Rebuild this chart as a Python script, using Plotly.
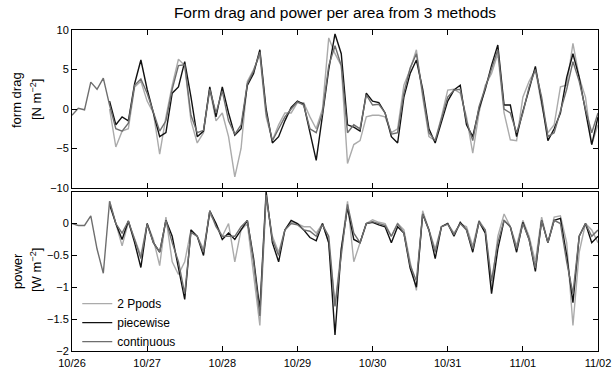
import plotly.graph_objects as go
from plotly.subplots import make_subplots

# time in hours since 10/26 00:00, 2-hour sampling
hours = list(range(0, 169, 2))
tick_hours = [0, 24, 48, 72, 96, 120, 144, 168]
tick_labels = ["10/26", "10/27", "10/28", "10/29", "10/30", "10/31", "11/01", "11/02"]
N = None

drag_continuous = [-0.8, 0.1, -0.1, 3.4, 2.5, 3.9, 0.5, -2.5, -2.8, -1.8,
                   3.0, 3.8, 2.0, -0.3, -2.8, -1.5, 2.5, 5.5, 5.6, -0.8,
                   -3.0, -2.7, 2.5, -0.5, 2.3, -1.5, -3.2, -2.0, 3.2, 4.8,
                   7.2, -0.5, -4.0, -2.5, -1.0, 0.0, 0.9, 0.5, -2.5, -3.0,
                   -0.5, 5.5, 8.0, 5.5, -3.0, -2.0, -2.5, 1.8, 0.5, 0.6,
                   -0.5, -3.2, -3.0, 2.0, 5.2, 7.0, 2.0, -3.0, -4.0, -1.2,
                   1.5, 2.4, 2.5, -1.5, -4.0, 0.3, 2.8, 5.0, 7.5, 0.0,
                   -0.5, -3.0, -0.5, 2.8, 5.0, 1.5, -3.5, -3.0, -0.1, 2.5,
                   6.0, 3.5, 0.0, -3.0, -0.5]
drag_piecewise = [N, N, N, N, N, N, 1.0, -2.0, -1.0, -1.5,
                  3.2, 6.2, 2.5, -0.5, -3.5, -3.0, 2.0, 2.8, 6.0, 1.5,
                  -3.5, -2.8, 2.8, -1.0, 2.8, -0.5, -3.3, -2.5, 3.0, 4.5,
                  7.5, 0.0, -4.3, -3.5, -1.5, 0.2, 1.0, 0.6, -2.8, -6.5,
                  -0.8, 5.0, 9.5, 7.0, -2.0, -2.3, -2.8, 2.0, 1.0, 0.8,
                  -0.5, -3.5, -4.3, 1.5, 4.5, 6.2, 2.5, -2.5, -4.3, -1.5,
                  1.0, 2.4, 3.0, -2.0, -3.5, 0.0, 2.5, 5.5, 8.1, 0.5,
                  0.5, -3.5, -0.3, 2.5, 5.4, 1.0, -4.0, -2.5, -0.5, 4.0,
                  7.0, 4.0, -0.5, -4.5, -1.0]
drag_2ppods = [N, N, N, N, N, N, 0.0, -4.8, -2.8, -2.5,
               2.8, 3.5, 1.0, -0.5, -5.7, -1.0, 3.0, 6.3, 5.5, -1.5,
               -4.3, -3.0, 2.5, -1.5, -0.5, -3.5, -8.6, -5.0, 3.5, 5.0,
               6.8, -1.0, -4.0, -2.0, -0.5, -0.5, 0.8, 0.8, -1.0, -2.5,
               0.0, 9.0, 7.0, 5.5, -6.9, -4.5, -4.0, -1.0, -0.8, -0.8,
               -1.0, -3.0, -2.5, 3.0, 5.0, 7.5, 1.5, -3.5, -4.0, -1.0,
               2.4, 2.5, 2.0, -1.0, -5.6, -0.5, 3.0, 4.5, 7.0, -0.5,
               -3.9, -4.0, 1.5, 3.5, 5.0, 0.5, -3.0, -2.0, 2.8, 3.0,
               8.3, 4.0, 1.5, -4.5, -2.0]

power_continuous = [0.0, -0.03, -0.03, 0.12, -0.4, -0.78, 0.35, 0.0, -0.15, 0.04,
                    -0.25, -0.55, -0.01, -0.3, -0.45, 0.05, -0.3, -0.6, -1.1, -0.14,
                    -0.2, -0.45, 0.2, -0.05, -0.2, -0.2, -0.2, -0.05, 0.05, -0.6,
                    -1.45, 0.45, -0.25, -0.5, -0.1, 0.0, -0.02, -0.1, -0.12, -0.2,
                    -0.02, -0.2, -1.3, -0.5, 0.3, -0.15, -0.3, 0.0, 0.03, 0.0,
                    -0.03, -0.2, 0.0, -0.15, -0.65, -0.9, 0.15, -0.1, -0.45, -0.05,
                    -0.01, -0.17, 0.0, -0.1, -0.4, 0.02, -0.1, -0.9, -0.3, 0.05,
                    -0.05, -0.4, 0.0, -0.25, -0.7, 0.05, -0.3, 0.05, 0.0, -0.6,
                    -1.1, -0.2, 0.0, -0.2, -0.1]
power_piecewise = [N, N, N, N, N, N, 0.3, 0.0, -0.25, 0.04,
                   -0.3, -0.69, 0.0, -0.3, -0.45, 0.05, -0.2, -0.7, -1.19, -0.1,
                   -0.2, -0.5, 0.2, 0.0, -0.25, -0.15, -0.25, -0.1, 0.05, -0.55,
                   -1.35, 0.5, -0.3, -0.6, -0.1, 0.05, 0.0, -0.1, -0.22, -0.27,
                   0.0, -0.3, -1.75, -0.4, 0.25, -0.25, -0.3, 0.0, 0.02, -0.02,
                   -0.05, -0.3, -0.05, -0.15, -0.7, -1.0, 0.15, -0.1, -0.55, -0.05,
                   0.0, -0.2, 0.02, -0.1, -0.45, 0.03, -0.15, -1.1, -0.4, 0.05,
                   -0.05, -0.45, 0.02, -0.25, -0.75, 0.05, -0.3, 0.05, 0.08, -0.5,
                   -1.24, -0.2, 0.0, -0.3, -0.2]
power_2ppods = [N, N, N, N, N, N, 0.35, 0.0, -0.35, 0.02,
                -0.25, -0.5, 0.0, -0.25, -0.66, 0.1, -0.6, -0.8, -0.6, -0.1,
                -0.2, -0.4, 0.15, 0.0, -0.2, 0.0, -0.6, -0.1, 0.0, -0.8,
                -1.6, 0.4, -0.2, -0.45, -0.1, 0.02, 0.0, -0.05, -0.05, -0.15,
                0.0, -0.3, -1.29, -0.4, 0.35, -0.6, -0.3, 0.0, 0.06, 0.02,
                0.0, -0.2, 0.0, -0.1, -0.6, -1.05, 0.2, -0.1, -0.4, -0.05,
                0.0, -0.15, 0.0, -0.05, -0.35, 0.05, -0.1, -1.0, -0.2, 0.15,
                -0.05, -0.35, 0.05, -0.2, -0.6, 0.1, -0.3, 0.1, 0.12, -0.3,
                -1.6, -0.45, 0.0, -0.1, -0.3]

names = ["2 Ppods", "piecewise", "continuous"]
colors = ["#ababab", "#111111", "#6e6e6e"]
drag_series = [drag_2ppods, drag_piecewise, drag_continuous]
power_series = [power_2ppods, power_piecewise, power_continuous]

fig = make_subplots(rows=2, cols=1, shared_xaxes=False)
for name, col, d, p in zip(names, colors, drag_series, power_series):
    fig.add_trace(go.Scatter(x=hours, y=d, mode="lines", name=name,
                             line=dict(color=col, width=1.4), showlegend=False,
                             connectgaps=False), row=1, col=1)
    fig.add_trace(go.Scatter(x=hours, y=p, mode="lines", name=name,
                             line=dict(color=col, width=1.4), showlegend=True,
                             connectgaps=False), row=2, col=1)

font = "Liberation Sans, Arial, sans-serif"
axis_common = dict(showline=True, linecolor="black", linewidth=1, mirror="allticks",
                   ticks="inside", ticklen=5, tickcolor="black", showgrid=False,
                   zeroline=False, automargin=False,
                   tickfont=dict(family=font, size=11, color="black"))

fig.update_xaxes(range=[0, 168], tickvals=tick_hours, ticktext=tick_labels,
                 ticklabelstandoff=2, **axis_common)
fig.update_xaxes(showticklabels=False, row=1, col=1)
fig.update_yaxes(**axis_common)
fig.update_yaxes(range=[-10, 10], tickvals=[-10, -5, 0, 5, 10], domain=[0.5078, 1.0], row=1, col=1)
fig.update_yaxes(range=[-2, 0.5], tickvals=[-2, -1.5, -1, -0.5, 0], domain=[0.0, 0.4963], row=2, col=1)
fig.update_xaxes(domain=[0, 1])

ann = []
for txt, xpx, ypx in [("form drag", 16, 100), ("[N m<sup>−2</sup>]", 36, 100),
                      ("power", 17, 271), ("[W m<sup>−2</sup>]", 36, 270)]:
    ann.append(dict(text=txt, textangle=-90, xref="paper", yref="paper",
                    x=(xpx - 72) / 526, y=(351 - ypx) / 321, xanchor="center", yanchor="middle",
                    showarrow=False, font=dict(family=font, size=13, color="black")))

fig.update_layout(
    width=612, height=371,
    margin=dict(l=72, r=14, t=30, b=20, autoexpand=False),
    paper_bgcolor="white", plot_bgcolor="white",
    title=dict(text="Form drag and power per area from 3 methods", x=0.5, xref="paper",
               xanchor="center", y=1 - 13 / 371, yref="container", yanchor="middle",
               font=dict(family=font, size=15.5, color="black")),
    annotations=ann,
    legend=dict(x=0.01, y=-0.016, xanchor="left", yanchor="bottom", bgcolor="rgba(0,0,0,0)",
                font=dict(family=font, size=12, color="black"), itemwidth=30,
                tracegroupgap=0),
    showlegend=True,
)

fig.write_html("out.html")
